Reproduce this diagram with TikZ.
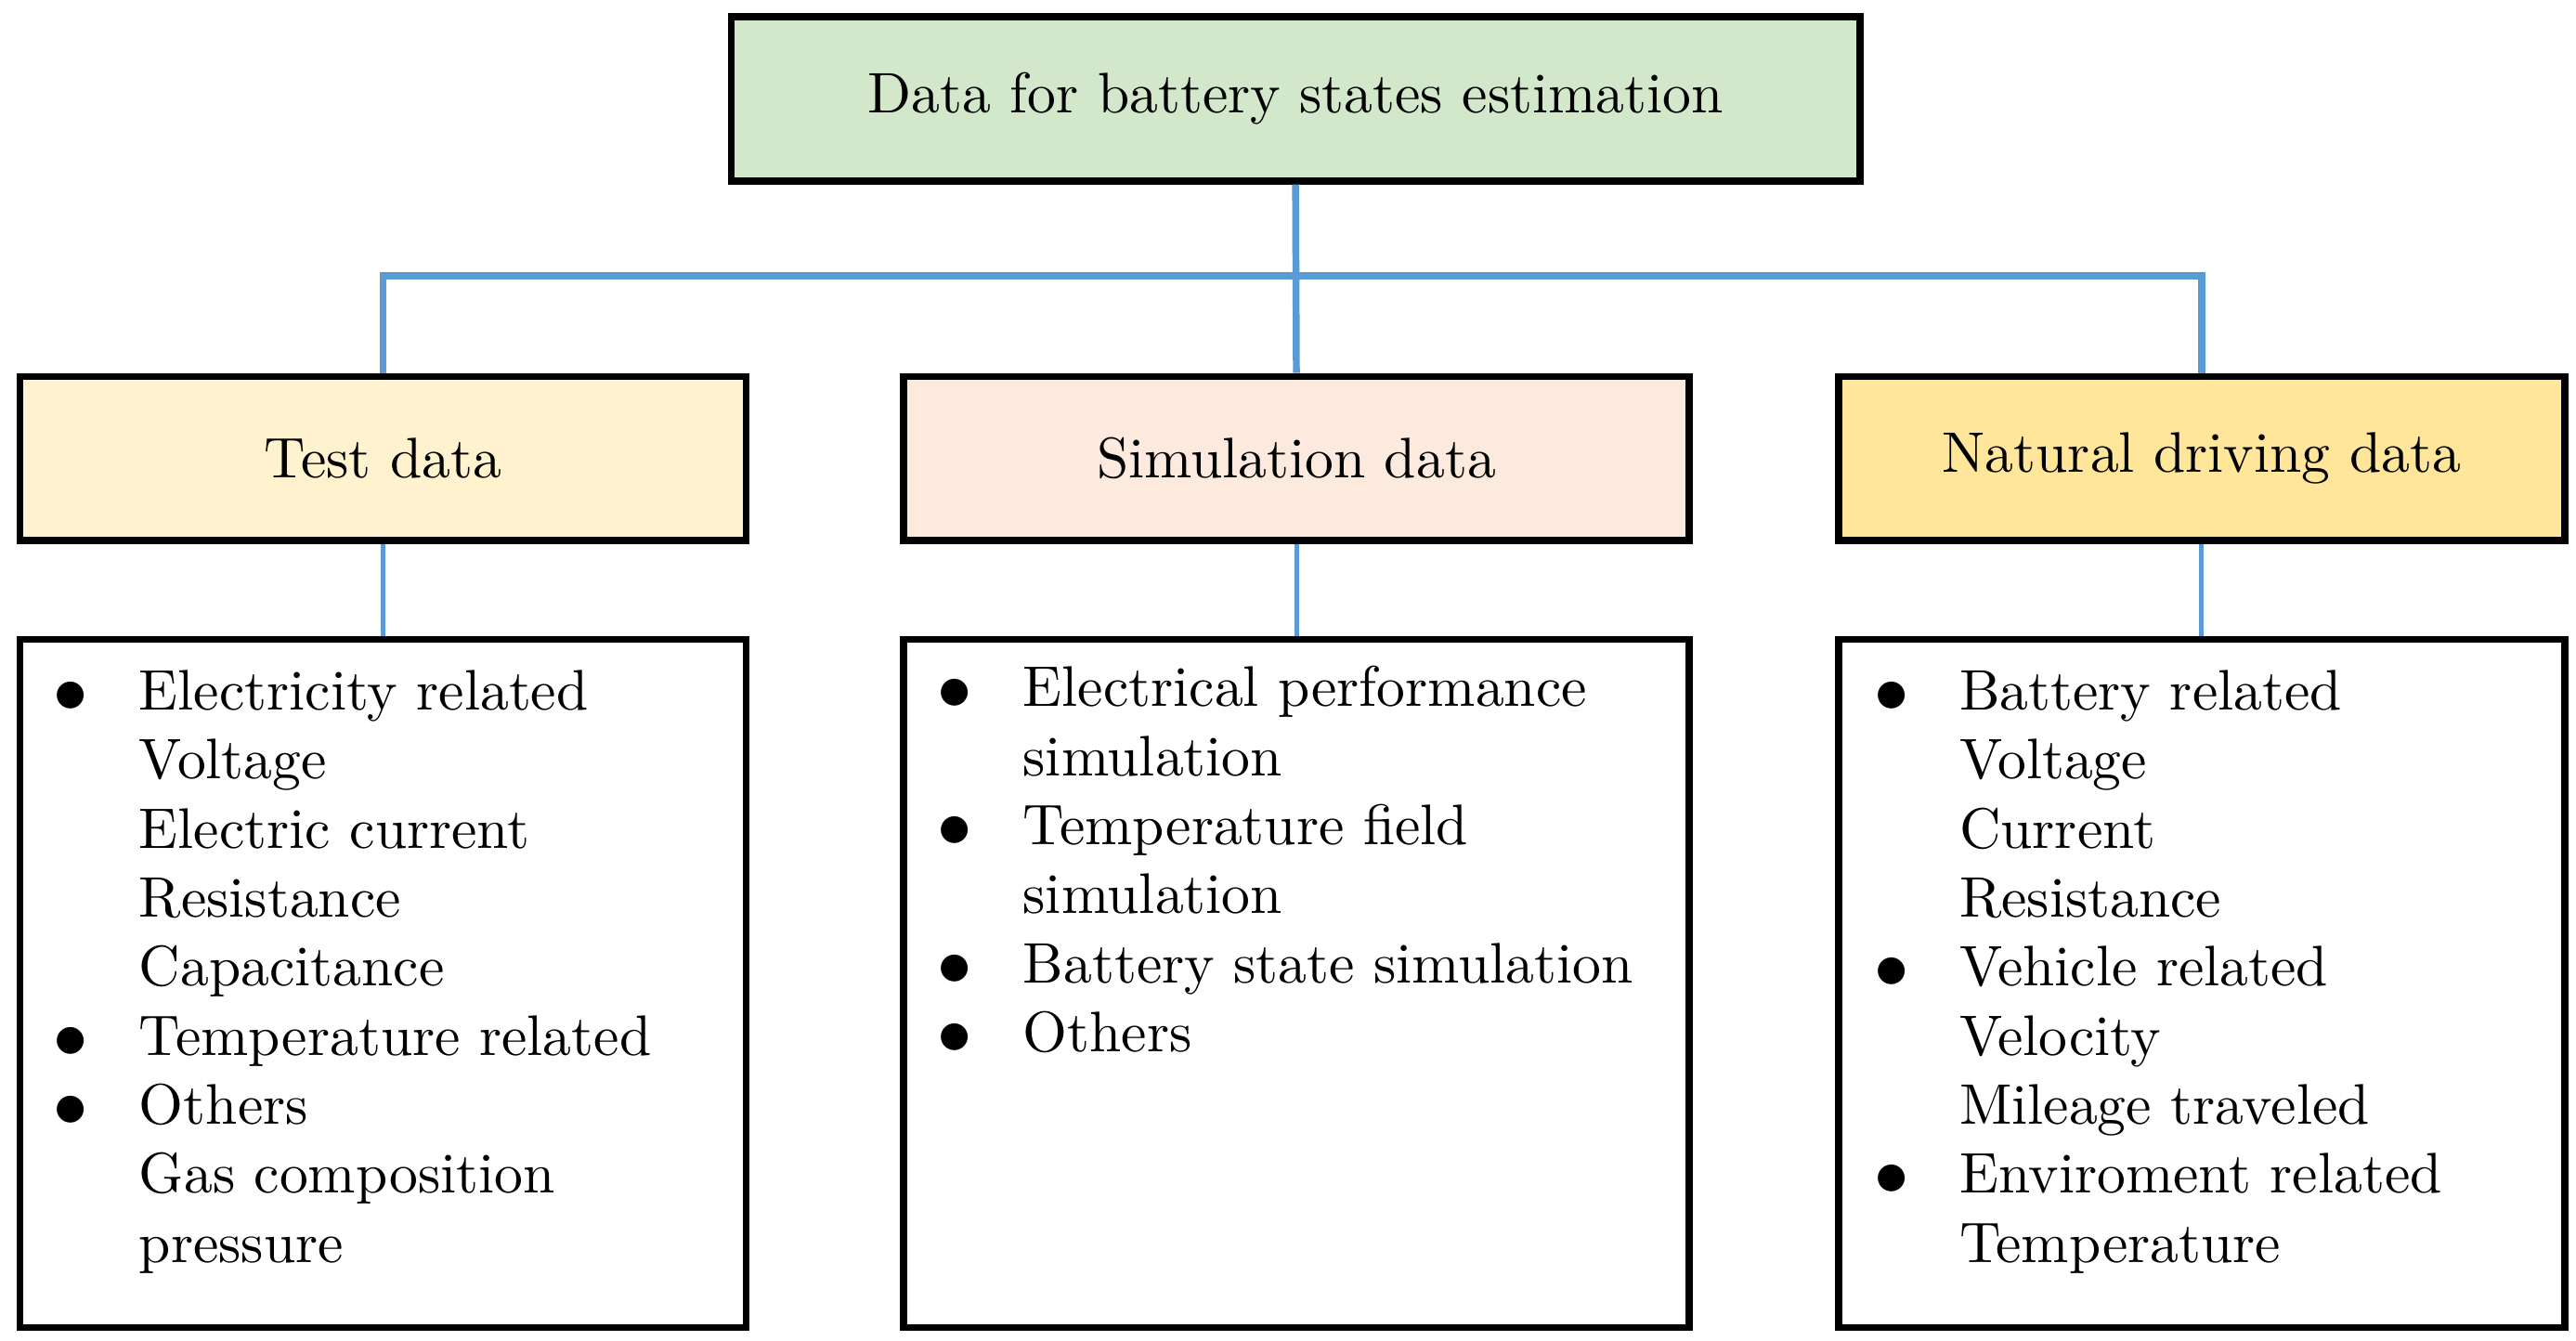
\documentclass[tikz,border=0pt]{standalone}
\usepackage{array}
\begin{document}
\begin{tikzpicture}[x=0.01cm,y=-0.01cm,font=\fontsize{9.9}{11.95}\selectfont]
\tikzset{
  box/.style={draw,line width=1.2pt,anchor=north west,inner sep=0pt},
  link/.style={draw=blue!40!cyan!70!black,line width=1pt},
  bul/.style={anchor=north west,inner sep=0pt,align=left}
}
\definecolor{cTop}{HTML}{D3E8CA}
\definecolor{cTest}{HTML}{FFF2CF}
\definecolor{cSim}{HTML}{FBEADD}
\definecolor{cNat}{HTML}{FFE69B}
\definecolor{cLink}{HTML}{5B9BD5}
\useasboundingbox (0,0) rectangle (1568,816);
% top box
\node[box,fill=cTop,minimum width=687*0.01cm,minimum height=100*0.01cm] (top) at (443,8) {};
\node at (top.center) {Data for battery states estimation};
% second level
\node[box,fill=cTest,minimum width=442*0.01cm,minimum height=100*0.01cm] (test) at (10,227) {};
\node at (test.center) {Test data};
\node[box,fill=cSim,minimum width=478*0.01cm,minimum height=100*0.01cm] (sim) at (548,227) {};
\node at (sim.center) {Simulation data};
\node[box,fill=cNat,minimum width=442*0.01cm,minimum height=100*0.01cm] (nat) at (1117,227) {};
\node at (nat.center) {Natural driving data};
% lists
\node[box,minimum width=442*0.01cm,minimum height=419*0.01cm] (ltest) at (10,387) {};
\node[box,minimum width=478*0.01cm,minimum height=419*0.01cm] (lsim) at (548,387) {};
\node[box,minimum width=442*0.01cm,minimum height=419*0.01cm] (lnat) at (1117,387) {};
\newcommand{\bl}{\raisebox{-0.5pt}{\large$\bullet$}}
\node[bul] at (32,402) {\begin{tabular}{@{}p{0.52cm}@{}l@{}}
\bl & Electricity related\\ & Voltage\\ & Electric current\\ & Resistance\\ & Capacitance\\
\bl & Temperature related\\ \bl & Others\\ & Gas composition\\ & pressure\end{tabular}};
\node[bul] at (570,400) {\begin{tabular}{@{}p{0.52cm}@{}l@{}}
\bl & Electrical performance\\ & simulation\\ \bl & Temperature field\\ & simulation\\
\bl & Battery state simulation\\ \bl & Others\end{tabular}};
\node[bul] at (1140,402) {\begin{tabular}{@{}p{0.52cm}@{}l@{}}
\bl & Battery related\\ & Voltage\\ & Current\\ & Resistance\\ \bl & Vehicle related\\
 & Velocity\\ & Mileage traveled\\ \bl & Enviroment related\\ & Temperature\end{tabular}};
% connectors
\coordinate (bus) at (787,168);
\draw[draw=cLink,line width=1.2pt] (top.south) -- (sim.north);
\draw[draw=cLink,line width=1.2pt] (test.north) |- (bus) -| (nat.north);
\draw[draw=cLink,line width=0.8pt] (test.south) -- (ltest.north);
\draw[draw=cLink,line width=0.8pt] (sim.south) -- (lsim.north);
\draw[draw=cLink,line width=0.8pt] (nat.south) -- (lnat.north);
\end{tikzpicture}
\end{document}
